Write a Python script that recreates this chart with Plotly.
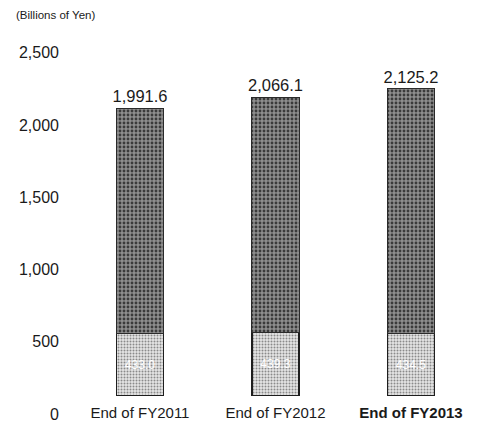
import plotly.graph_objects as go

# Interest-bearing debt balance, billions of yen
categories = ["End of FY2011", "End of FY2012", "End of FY2013"]
category_labels = ["End of FY2011", "End of FY2012", "<b>End of FY2013</b>"]
totals = [1991.6, 2066.1, 2125.2]
lower_part = [433.0, 439.3, 434.5]
upper_part = [round(t - b, 1) for t, b in zip(totals, lower_part)]

y_ticks = [0, 500, 1000, 1500, 2000, 2500]
y_tick_text = ["0", "500", "1,000", "1,500", "2,000", "2,500"]

FONT = "Liberation Sans, Arial, sans-serif"
BAR_W = 0.347

fig = go.Figure()

fig.add_trace(go.Bar(
    x=categories,
    y=lower_part,
    width=BAR_W,
    text=[f"{v:,.1f}" for v in lower_part],
    textposition="inside",
    insidetextanchor="middle",
    constraintext="none",
    textfont=dict(family=FONT, size=12, color="white"),
    marker=dict(
        color="#e2e2e2",
        line=dict(color="#1e1e1e", width=1.2),
        pattern=dict(shape=".", fillmode="replace", bgcolor="#e6e6e6",
                     fgcolor="#8a8a8a", size=3, solidity=0.35),
    ),
    hoverinfo="skip",
))

fig.add_trace(go.Bar(
    x=categories,
    y=upper_part,
    width=BAR_W,
    customdata=totals,
    texttemplate="%{customdata:,.1f}",
    textposition="outside",
    constraintext="none",
    cliponaxis=False,
    textfont=dict(family=FONT, size=16.5, color="#1a1a1a"),
    marker=dict(
        color="#7c7c7c",
        line=dict(color="#2a2a2a", width=1),
        pattern=dict(shape=".", fillmode="replace", bgcolor="#8e8e8e",
                     fgcolor="#3a3a3a", size=4, solidity=0.4),
    ),
    hoverinfo="skip",
))

fig.update_layout(
    width=477,
    height=422,
    barmode="stack",
    showlegend=False,
    paper_bgcolor="white",
    plot_bgcolor="white",
    margin=dict(l=66, r=0, t=13, b=26),
    font=dict(family=FONT, color="#1a1a1a"),
    xaxis=dict(
        type="category",
        range=[-0.546, 2.487],
        tickvals=categories,
        ticktext=category_labels,
        tickfont=dict(size=15, color="#1a1a1a"),
        showline=False,
        showgrid=False,
        zeroline=False,
        ticks="",
        ticklabelstandoff=6,
    ),
    yaxis=dict(
        range=[0, 2650],
        tickvals=y_ticks,
        ticktext=y_tick_text,
        tickfont=dict(size=16, color="#1a1a1a"),
        showline=False,
        showgrid=False,
        zeroline=False,
        ticks="",
        ticklabelshift=18,
        ticklabelstandoff=6,
        ticklabeloverflow="allow",
    ),
    annotations=[dict(
        text="(Billions of Yen)",
        xref="paper", yref="paper",
        x=0, y=1,
        xshift=-52, yshift=-2,
        xanchor="left", yanchor="middle",
        showarrow=False,
        font=dict(family=FONT, size=11.5, color="#1a1a1a"),
    )],
)

fig.write_html("out.html")
